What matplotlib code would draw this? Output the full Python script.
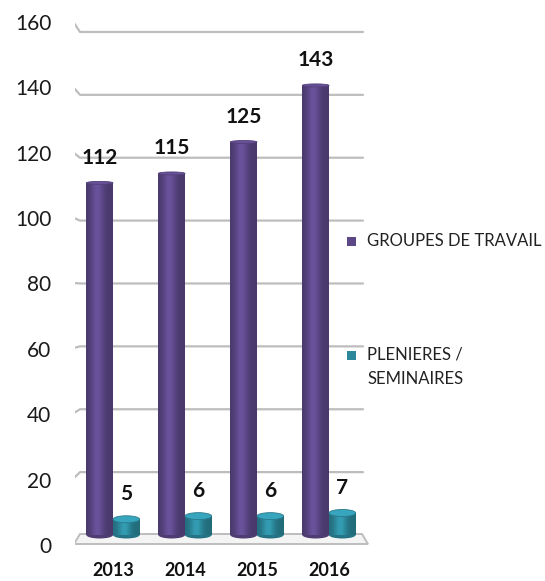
import matplotlib
matplotlib.use('Agg')
import matplotlib.pyplot as plt
import numpy as np
from matplotlib.patches import Polygon, Ellipse, Rectangle
from matplotlib.colors import to_rgb

# ---------------- data ----------------
years = ['2013', '2014', '2015', '2016']
groupes_de_travail = [112, 115, 125, 143]
plenieres_seminaires = [5, 6, 6, 7]
series_labels = ['GROUPES DE TRAVAIL', 'PLENIERES /\nSEMINAIRES']
y_ticks = [0, 20, 40, 60, 80, 100, 120, 140, 160]

# ---------------- style ----------------
PURPLE = '#5C4787'
TEAL = '#2C879B'
GRID = '#BDBDBD'
plt.rcParams['font.family'] = ['Lato', 'DejaVu Sans']

W, H = 545, 581
fig = plt.figure(figsize=(W / 100, H / 100), dpi=100)

AX_L, AX_R, AX_T, AX_B = 75, 372, 20, 548
rect = [AX_L / W, 1 - AX_B / H, (AX_R - AX_L) / W, (AX_B - AX_T) / H]

PX_X = 72.0     # pixels per category
X0_PX = 113.0   # pixel of first category centre
PX_Y = 3.144    # pixels per unit (back wall / bars)
Y0_PX = 535.0   # pixel of value 0

# label axis (front scale for the y tick labels)
LPX_Y = 3.27
LY0_PX = 545.0
lab = fig.add_axes(rect, frameon=False)
lab.set_ylim(-(AX_B - LY0_PX) / LPX_Y, (LY0_PX - AX_T) / LPX_Y)
lab.set_yticks(y_ticks)
lab.set_xticks([])
lab.tick_params(axis='y', length=0, pad=17, labelsize=15, labelcolor='#1a1a1a')
lab.patch.set_visible(False)

ax = fig.add_axes(rect, frameon=False)
ax.patch.set_visible(False)
xlim = ((AX_L - X0_PX) / PX_X, (AX_R - X0_PX) / PX_X)
ylim = (-(AX_B - Y0_PX) / PX_Y, (Y0_PX - AX_T) / PX_Y)

def dxp(p):
    return p / PX_X

def dyp(p):
    return p / PX_Y

# gridlines on the back wall with a small perspective stroke at the left
gx0 = dxp(80 - X0_PX)
gx1 = dxp(363 - X0_PX)
for v in y_ticks:
    slope_px = -8 + v * 17.0 / 160.0   # joint minus left end, px downward
    if v == 0:
        continue
    ax.plot([gx0 - dxp(6), gx0, gx1], [v + dyp(slope_px), v, v],
            color=GRID, lw=1.6, zorder=1, solid_capstyle='round')

# floor platform
floor = Polygon([(dxp(80 - X0_PX), dyp(1)), (dxp(362 - X0_PX), dyp(1)),
                 (dxp(368 - X0_PX), -dyp(9)), (dxp(74 - X0_PX), -dyp(9))],
                closed=True, facecolor='#F4F4F4', edgecolor=GRID, lw=1.4, zorder=1)
ax.add_patch(floor)

# ---------------- bars ----------------
x = np.arange(len(years))
bw = 0.37
off = 0.185
bars1 = ax.bar(x - off, groupes_de_travail, bw, color=PURPLE, zorder=3)
bars2 = ax.bar(x + off, plenieres_seminaires, bw, color=TEAL, zorder=3)

t = np.linspace(0, 1, 80)
prof = 0.80 + 0.36 * np.exp(-((t - 0.42) / 0.24) ** 2)

def shade(bars, base, top_h, top_light):
    rgb = np.array(to_rgb(base))
    img = np.clip(rgb[None, None, :] * prof[None, :, None], 0, 1)
    for b in bars:
        x0 = b.get_x()
        x1 = x0 + b.get_width()
        h = b.get_height()
        cx = (x0 + x1) / 2
        bottom = Ellipse((cx, 0), b.get_width(), dyp(7), facecolor=rgb * 0.85,
                         edgecolor='none', zorder=2.9)
        ax.add_patch(bottom)
        im = ax.imshow(img, extent=(x0, x1, 0, h), aspect='auto', zorder=3.1,
                       interpolation='bilinear')
        im.set_clip_path(b)
        top = Ellipse((cx, h), b.get_width(), top_h,
                      facecolor=np.clip(rgb * top_light, 0, 1),
                      edgecolor=np.clip(rgb * 0.9, 0, 1), lw=0.6, zorder=3.2)
        ax.add_patch(top)

shade(bars1, PURPLE, dyp(3), 1.12)
shade(bars2, TEAL, dyp(7), 1.22)

for bars, vals in ((bars1, groupes_de_travail), (bars2, plenieres_seminaires)):
    for b, v in zip(bars, vals):
        ax.annotate(str(v), (b.get_x() + b.get_width() / 2, v), xytext=(0, 18),
                    textcoords='offset points', ha='center', va='center',
                    fontsize=15, fontweight='bold', color='#111111', zorder=5)

ax.set_xlim(*xlim)
ax.set_ylim(*ylim)
ax.set_yticks([])
ax.set_xticks(x, years)
ax.tick_params(axis='x', length=0, pad=10, labelsize=13)
for lbl in ax.get_xticklabels():
    lbl.set_fontweight('bold')
    lbl.set_color('#111111')

# ---------------- legend ----------------
leg_colors = [PURPLE, TEAL]
leg_y = [241, 355]
for col, lab_txt, yy in zip(leg_colors, series_labels, leg_y):
    fig.add_artist(Rectangle(((351 - 4.5) / W, 1 - (yy + 4.5) / H), 9 / W, 9 / H,
                             transform=fig.transFigure, facecolor=col, edgecolor='none'))
    for k, line in enumerate(lab_txt.split('\n')):
        fig.text(367 / W, 1 - (yy + k * 24) / H, line, ha='left', va='center',
                 fontsize=12, color='#222222')

fig.savefig('out.png', dpi=100)
